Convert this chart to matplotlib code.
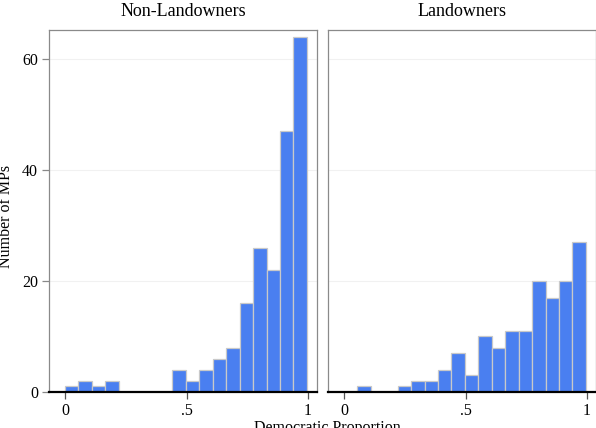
import numpy as np
import matplotlib
matplotlib.use('Agg')
import matplotlib.pyplot as plt

plt.rcParams['font.family'] = ['Liberation Serif', 'DejaVu Serif']

# histogram counts, 18 equal bins over the democratic proportion
bin_lo = 0.0
bin_hi = 0.995
non_landowners = [1, 2, 1, 2, 0, 0, 0, 0, 4, 2, 4, 6, 8, 16, 26, 22, 47, 64]
landowners = [0, 1, 0, 0, 1, 2, 2, 4, 7, 3, 10, 8, 11, 11, 20, 17, 20, 27]
titles = ['Non-Landowners', 'Landowners']
xticks = [0, 0.5, 1]
xticklabels = ['0', '.5', '1']
yticks = [0, 20, 40, 60]

edges = np.linspace(bin_lo, bin_hi, len(non_landowners) + 1)
width = edges[1] - edges[0]

fig = plt.figure(figsize=(5.96, 4.28), dpi=100)
ax1 = fig.add_axes([49/596, 36/428, 268/596, 362/428])
ax2 = fig.add_axes([328/596, 36/428, 268/596, 362/428])

for ax, counts, title in zip([ax1, ax2], [non_landowners, landowners], titles):
    for y in yticks[1:]:
        ax.axhline(y, color='#f1f1f1', lw=0.8, zorder=0)
    ax.bar(edges[:-1], counts, width=width, align='edge', color='#4a7ff0',
           edgecolor='#c9c9c9', linewidth=0.9, zorder=2)
    ax.set_xlim(-0.066, 1.037)
    ax.set_ylim(0, 65.2)
    ax.set_xticks(xticks)
    ax.set_xticklabels(xticklabels, fontsize=11.5)
    ax.set_title(title, fontsize=13, pad=10)
    for s in ['left', 'right', 'top']:
        ax.spines[s].set_color('#8a8a8a')
        ax.spines[s].set_linewidth(0.9)
    ax.spines['bottom'].set_color('black')
    ax.spines['bottom'].set_linewidth(1.6)
    ax.tick_params(axis='x', length=5, width=0.9, color='#555555', pad=3)
    ax.tick_params(axis='y', length=5, width=0.9, color='#888888', pad=3)

ax1.set_yticks(yticks)
ax1.set_yticklabels([str(v) for v in yticks], fontsize=11.5)
ax2.set_yticks(yticks)
ax2.set_yticklabels([])
ax2.tick_params(axis='y', length=0)

fig.text(6/596, 212/428, 'Number of MPs', rotation=90, ha='center', va='center', fontsize=11.5)
fig.text(327/596, 8/428, 'Democratic Proportion', ha='center', va='top', fontsize=11.5)

plt.savefig('out.png', dpi=100)
